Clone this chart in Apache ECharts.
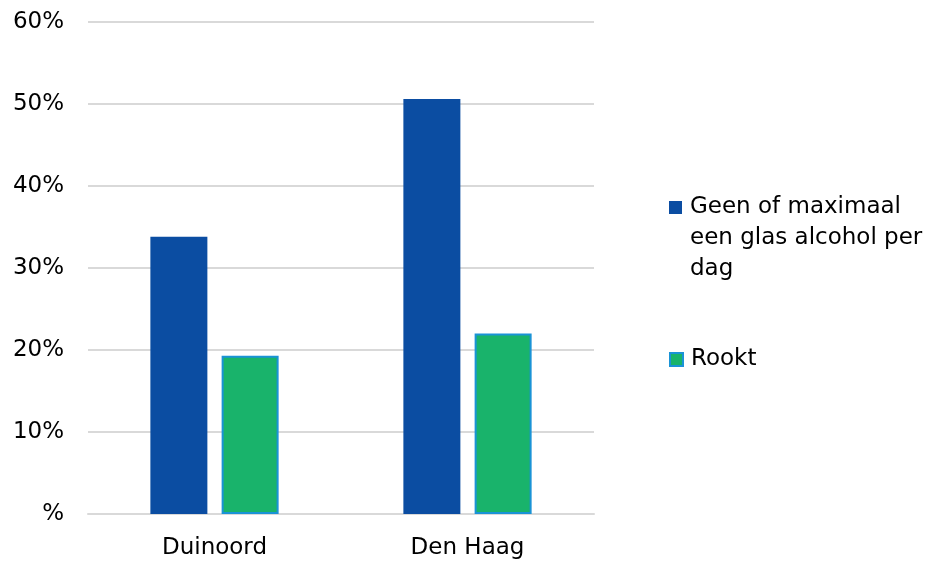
<!DOCTYPE html>
<html>
<head>
<meta charset="utf-8">
<script src="https://cdn.jsdelivr.net/npm/echarts@6/dist/echarts.min.js"></script>
<style>html,body{margin:0;padding:0;background:#fff;}#c{width:934px;height:561px;}</style>
</head>
<body>
<div id="c"></div>
<script>
var categories = ['Duinoord', 'Den Haag'];
var seriesNames = ['Geen of maximaal een glas alcohol per dag', 'Rookt'];
var alcoholValues = [33.8, 50.6];
var rooktValues = [19.3, 22.0];
var yTicks = [0, 10, 20, 30, 40, 50, 60];

var FONT = 'DejaVu Sans';
var chart = echarts.init(document.getElementById('c'), null, {renderer: 'canvas'});
chart.setOption({
  animation: false,
  backgroundColor: '#ffffff',
  textStyle: {fontFamily: FONT},
  grid: {left: 88, right: 340, top: 22, bottom: 47, containLabel: false},
  legend: [
    {
      data: [seriesNames[0]],
      orient: 'vertical',
      left: 664,
      top: 125,
      itemWidth: 13,
      itemHeight: 13,
      icon: 'rect',
      formatter: function () { return '\n\nGeen of maximaal\neen glas alcohol per\ndag'; },
      textStyle: {fontFamily: FONT, fontSize: 23, color: '#000', lineHeight: 31, padding: [0, 0, 0, 3]}
    },
    {
      data: [seriesNames[1]],
      orient: 'vertical',
      left: 664,
      top: 339,
      itemWidth: 13,
      itemHeight: 13,
      icon: 'rect',
      textStyle: {fontFamily: FONT, fontSize: 23, color: '#000', lineHeight: 31, padding: [0, 0, 0, 3]}
    }
  ],
  xAxis: {
    type: 'category',
    data: categories,
    axisLine: {show: true, lineStyle: {color: '#d9d9d9', width: 2}},
    axisTick: {show: false},
    axisLabel: {fontFamily: FONT, fontSize: 23, color: '#000', margin: 23}
  },
  yAxis: {
    type: 'value',
    min: yTicks[0],
    max: yTicks[yTicks.length - 1],
    interval: 10,
    axisLine: {show: false},
    axisTick: {show: false},
    splitLine: {show: true, lineStyle: {color: '#d9d9d9', width: 2}},
    axisLabel: {
      fontFamily: FONT, fontSize: 23, color: '#000', margin: 24,
      formatter: function (v) { return v === 0 ? '%' : v + '%'; }
    }
  },
  series: [
    {
      name: seriesNames[0],
      type: 'bar',
      data: alcoholValues,
      barWidth: 57,
      barGap: '25%',
      itemStyle: {color: '#0b4da2'}
    },
    {
      name: seriesNames[1],
      type: 'bar',
      data: rooktValues,
      barWidth: 57,
      itemStyle: {color: '#19b36b', borderColor: '#1a93d6', borderWidth: 2}
    }
  ]
});
</script>
</body>
</html>
